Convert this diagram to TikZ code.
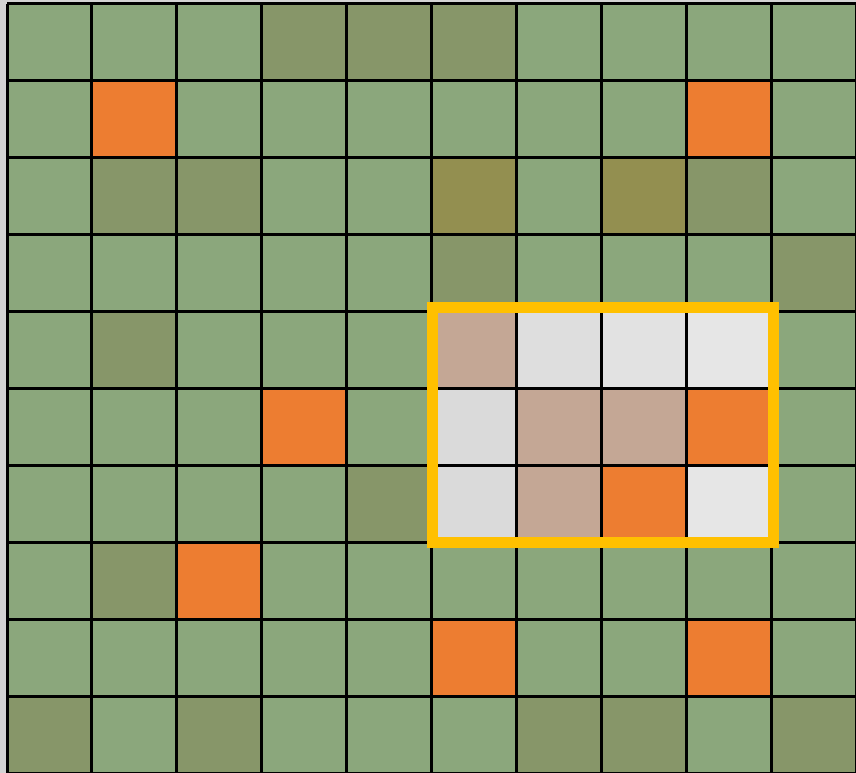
\documentclass[tikz,border=0pt]{standalone}
\definecolor{cg}{HTML}{8BA77C}
\definecolor{cd}{HTML}{879669}
\definecolor{cy}{HTML}{938F50}
\definecolor{co}{HTML}{ED7D31}
\definecolor{ct}{HTML}{C4A795}
\definecolor{ca}{HTML}{DADADA}
\definecolor{cb}{HTML}{DEDEDE}
\definecolor{cc}{HTML}{E2E2E2}
\definecolor{ce}{HTML}{E6E6E6}
\definecolor{fr}{HTML}{FFC000}
\definecolor{bgc}{HTML}{D3D3D3}
\tikzset{gridline/.style={line width=3pt,black}, framebox/.style={draw=fr,line width=11pt}}
\begin{document}
\begin{tikzpicture}[x=1pt,y=-1pt]
\useasboundingbox (0,0) rectangle (856,773);
\fill[bgc] (0,0) rectangle (856,773);
\foreach \row [count=\r from 0] in {
  {g,g,g,d,d,d,g,g,g,g},
  {g,o,g,g,g,g,g,g,o,g},
  {g,d,d,g,g,y,g,y,d,g},
  {g,g,g,g,g,d,g,g,g,d},
  {g,d,g,g,g,t,b,c,e,g},
  {g,g,g,o,g,a,t,t,o,g},
  {g,g,g,g,d,a,t,o,e,g},
  {g,d,o,g,g,g,g,g,g,g},
  {g,g,g,g,g,o,g,g,o,g},
  {d,g,d,g,g,g,d,d,g,d}} {
  \foreach \c [count=\k from 0] in \row {
    \fill[c\c] ({7+84.9*\k},{4+76.9*\r}) rectangle ++(84.9,76.9);
  }
}
\foreach \i in {0,...,10} {
  \draw[gridline] ({7+84.9*\i},4) -- ({7+84.9*\i},773);
  \draw[gridline] (7,{4+76.9*\i}) -- (856,{4+76.9*\i});
}
\draw[framebox] (432,307) rectangle (773,542);
\end{tikzpicture}
\end{document}
